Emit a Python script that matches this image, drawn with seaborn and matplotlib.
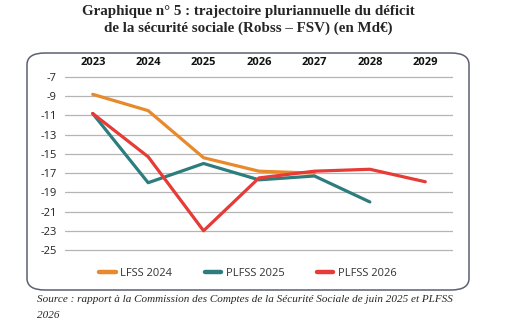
import matplotlib
matplotlib.use("Agg")
import matplotlib.pyplot as plt
import seaborn as sns
import pandas as pd
import numpy as np
from matplotlib.patches import FancyBboxPatch
from matplotlib.lines import Line2D

years = [2023, 2024, 2025, 2026, 2027, 2028, 2029]
lfss_2024 = [-8.8, -10.5, -15.4, -16.8, -17.0, np.nan, np.nan]
plfss_2025 = [-10.8, -18.0, -16.0, -17.7, -17.3, -20.0, np.nan]
plfss_2026 = [-10.8, -15.3, -23.0, -17.5, -16.8, -16.6, -17.9]
series_names = ["LFSS 2024", "PLFSS 2025", "PLFSS 2026"]
colors = ["#E8892B", "#2E7D7E", "#E63B36"]
y_ticks = [-7, -9, -11, -13, -15, -17, -19, -21, -23, -25]

df = pd.DataFrame({
    "year": years * 3,
    "value": lfss_2024 + plfss_2025 + plfss_2026,
    "series": [series_names[0]] * 7 + [series_names[1]] * 7 + [series_names[2]] * 7,
}).dropna()

sns.set_theme(style="white")
plt.rcParams['font.family'] = ['Open Sans', 'DejaVu Sans']

fig = plt.figure(figsize=(5.14, 3.32), dpi=100)
ppu = (250 - 77) / 18.0
ymax, ymin = -6.8, -25.2
top_px = 77 - (ymax - (-7)) * ppu
bot_px = 250 + ((-25) - ymin) * ppu
ax = fig.add_axes([65 / 514, 1 - bot_px / 332, (453 - 65) / 514, (bot_px - top_px) / 332])

box = FancyBboxPatch((27 / 514, 1 - 290 / 332), (469 - 27) / 514, (290 - 53) / 332,
                     boxstyle="round,pad=0,rounding_size=0.035", transform=fig.transFigure,
                     facecolor="none", edgecolor="#5B6170", linewidth=1.1, zorder=0)
fig.patches.append(box)

sns.lineplot(data=df, x="year", y="value", hue="series", hue_order=series_names,
             palette=colors, linewidth=2.3, ax=ax, legend=False, sort=False)

ax.set_xlim(2022.5, 2029.5)
ax.set_ylim(ymin, ymax)
ax.set_yticks(y_ticks)
ax.set_yticklabels([str(v) for v in y_ticks], fontsize=8, color="#222222")
ax.set_xticks(years)
ax.set_xticklabels([str(y) for y in years], fontsize=8, fontweight="bold", color="#111111")
ax.xaxis.tick_top()
ax.tick_params(axis="both", length=0)
ax.tick_params(axis="x", pad=5)
ax.tick_params(axis="y", pad=6)
ax.set_xlabel("")
ax.set_ylabel("")
for s in ax.spines.values():
    s.set_visible(False)
ax.grid(False)
for v in y_ticks:
    ax.axhline(v, color="#B5B5B5", linewidth=0.9, zorder=0)

handles = [Line2D([0], [0], color=c, linewidth=3.2) for c in colors]
fig.legend(handles, series_names, loc="center", bbox_to_anchor=(248 / 514, 1 - 273 / 332),
           ncol=3, frameon=False, fontsize=8, handlelength=1.5, handletextpad=0.4,
           columnspacing=2.9, labelcolor="#333333")

fig.text(248 / 514, 1 - 11 / 332, "Graphique n° 5 : trajectoire pluriannuelle du déficit",
         ha="center", va="center", fontsize=10.8, fontweight="bold", family=["Liberation Serif"])
fig.text(248 / 514, 1 - 28 / 332, "de la sécurité sociale (Robss – FSV) (en Md€)",
         ha="center", va="center", fontsize=10.8, fontweight="bold", family=["Liberation Serif"])
fig.text(37 / 514, 1 - 300 / 332,
         "Source : rapport à la Commission des Comptes de la Sécurité Sociale de juin 2025 et PLFSS",
         ha="left", va="center", fontsize=8.0, style="italic", family=["Liberation Serif"])
fig.text(37 / 514, 1 - 315 / 332, "2026",
         ha="left", va="center", fontsize=8.0, style="italic", family=["Liberation Serif"])

fig.savefig("out.png", dpi=100)
